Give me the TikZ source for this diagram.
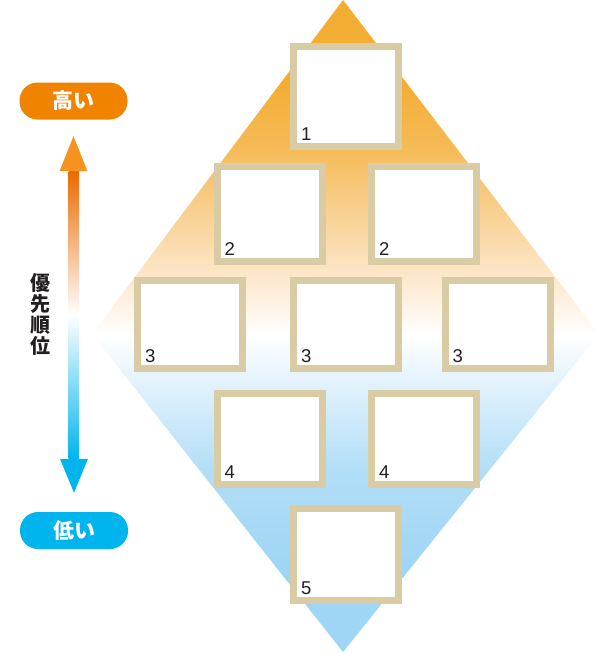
\documentclass[tikz,border=0pt]{standalone}
\usepackage{fontspec}
\setmainfont{Liberation Sans}
\newfontfamily\jpfont{Noto Sans CJK JP}
\usetikzlibrary{positioning,calc}

\definecolor{frametan}{RGB}{217,203,164}
\definecolor{highorange}{RGB}{240,131,0}
\definecolor{headorange}{RGB}{246,146,30}
\definecolor{shaftorange}{RGB}{234,106,0}
\definecolor{lowblue}{RGB}{0,181,237}
\definecolor{ink}{RGB}{35,31,32}
% background colours, top to bottom
\definecolor{deeporange}{RGB}{244,173,51}
\definecolor{midorange}{RGB}{245,187,88}
\definecolor{lightorange}{RGB}{249,211,152}
\definecolor{peach}{RGB}{254,236,215}
\definecolor{paleblue}{RGB}{228,243,253}
\definecolor{midblue}{RGB}{178,222,247}
\definecolor{skyblue}{RGB}{160,214,245}

\pgfdeclareverticalshading{priority}{100bp}{color(0bp)=(skyblue); color(32bp)=(skyblue); color(39bp)=(midblue); color(45.9bp)=(paleblue); color(49.3bp)=(white); color(52.8bp)=(peach); color(58.1bp)=(lightorange); color(63.5bp)=(midorange); color(68.9bp)=(deeporange); color(100bp)=(deeporange)}

\begin{document}
\begin{tikzpicture}[x=1pt, y=-1pt,
  slot/.style={rectangle, draw=frametan, line width=7pt, fill=white, minimum width=105pt, inner sep=0pt},
  rank/.style={anchor=south west, inner sep=0pt, xshift=11pt, yshift=9pt, text=ink, font=\fontsize{18.5}{18.5}\selectfont},
  pill/.style={rectangle, rounded corners=18pt, minimum width=108pt, minimum height=37pt, inner sep=0pt, text=white, font=\jpfont\bfseries\fontsize{21}{21}\selectfont}]
\useasboundingbox (0,0) rectangle (604,661);

% diamond behind the slots
\coordinate (apex) at (343,0);
\coordinate (east) at (599,334);
\coordinate (foot) at (343,652);
\coordinate (west) at (92,334);
\shade[shading=priority] (apex) -- (east) -- (foot) -- (west) -- cycle;

% slots, one row after another
\node[slot, minimum height=100pt, label={[rank]south west:1}] (r1) at (346,96.5) {};
\node[slot, minimum height=95pt, label={[rank]south west:2}] (r2a) at (269.5,214) {};
\node[slot, minimum height=95pt, label={[rank]south west:2}] (r2b) at (424,214) {};
\node[slot, minimum height=88pt, label={[rank]south west:3}] (r3a) at (190,324.5) {};
\node[slot, minimum height=88pt, label={[rank]south west:3}] (r3b) at (346,324.5) {};
\node[slot, minimum height=88pt, label={[rank]south west:3}] (r3c) at (497.5,324.5) {};
\node[slot, minimum height=91pt, label={[rank]south west:4}] (r4a) at (269.5,439) {};
\node[slot, minimum height=91pt, label={[rank]south west:4}] (r4b) at (424,439) {};
\node[slot, minimum height=92pt, label={[rank]south west:5}] (r5) at (346,554) {};

% scale on the left
\node[pill, fill=highorange] (high) at (73.5,101) {高い};
\node[pill, fill=lowblue] (low) at (74,530.5) {低い};
\node[align=center, inner sep=0pt, text=ink, font=\jpfont\bfseries\fontsize{20}{21}\selectfont] (prio) at (40,314) {優\\先\\順\\位};

\coordinate (uptip) at ($(high.south)+(0,16.5)$);
\coordinate (downtip) at ($(low.north)+(0,-19)$);
\shade[top color=shaftorange, bottom color=lowblue, middle color=white] ($(uptip)+(-5,35)$) rectangle ($(downtip)+(5,-34)$);
\fill[headorange] (uptip) -- ++(14,35) -- ++(-28,0) -- cycle;
\fill[lowblue] (downtip) -- ++(14,-34) -- ++(-28,0) -- cycle;
\end{tikzpicture}
\end{document}
